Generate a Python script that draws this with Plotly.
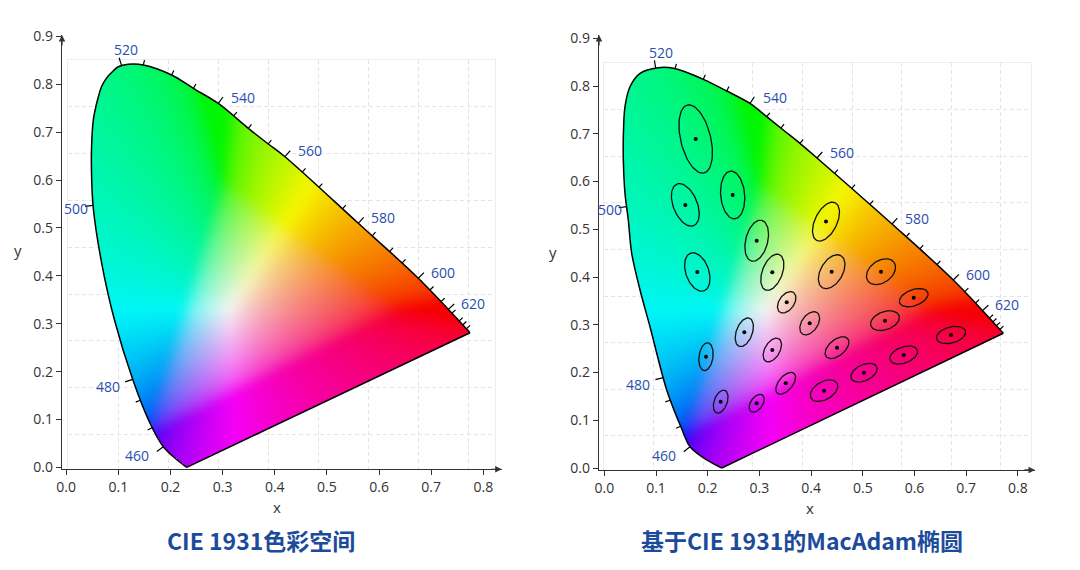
import base64
import struct
import zlib

import numpy as np
import plotly.graph_objects as go

# ------------------------------------------------------------------ data
x_tick_vals = [0.0, 0.1, 0.2, 0.3, 0.4, 0.5, 0.6, 0.7, 0.8]
y_tick_vals = [0.0, 0.1, 0.2, 0.3, 0.4, 0.5, 0.6, 0.7, 0.8, 0.9]

panel_titles = ["CIE 1931色彩空间", "基于CIE 1931的MacAdam椭圆"]

# spectral locus (blue end -> 520 nm tip -> red end), left panel
locus_left_x = [0.2311, 0.2106, 0.1862, 0.1607, 0.1275, 0.0926, 0.0681, 0.0520, 0.0489,
                0.0485, 0.0520, 0.0600, 0.0677, 0.0756, 0.0855, 0.0999, 0.1191, 0.1479,
                0.2023, 0.2438, 0.2917, 0.3493, 0.3876, 0.4196, 0.5602, 0.6753, 0.7745]
locus_left_y = [0.0000, 0.0175, 0.0432, 0.0921, 0.1839, 0.3077, 0.4261, 0.5409, 0.6000,
                0.6626, 0.7253, 0.7670, 0.7948, 0.8102, 0.8228, 0.8365, 0.8415, 0.8401,
                0.8192, 0.7914, 0.7598, 0.7079, 0.6752, 0.6486, 0.5096, 0.3948, 0.2812]

# spectral locus, right panel
locus_right_x = [0.2271, 0.1981, 0.1658, 0.1493, 0.1207, 0.0884, 0.0691, 0.0530, 0.0464,
                 0.0400, 0.0368, 0.0368, 0.0400, 0.0497, 0.0691, 0.1044, 0.1335, 0.1915,
                 0.2368, 0.2818, 0.3141, 0.3462, 0.3785, 0.4114, 0.5565, 0.6750, 0.7718]
locus_right_y = [0.0000, 0.0168, 0.0446, 0.0831, 0.1634, 0.2959, 0.3728, 0.4496, 0.5194,
                 0.5753, 0.6450, 0.6938, 0.7567, 0.7985, 0.8266, 0.8383, 0.8371, 0.8140,
                 0.7895, 0.7634, 0.7357, 0.7079, 0.6800, 0.6492, 0.5110, 0.3937, 0.2821]

# wavelength marks (nm) on the locus
tick_wl = [460, 465, 475, 480, 500, 520, 525, 530, 535, 540, 545, 550, 555, 560, 565,
           570, 575, 580, 585, 590, 595, 600, 605, 610, 620, 625, 630, 640, 650]
tick_left_x = [0.1862, 0.1607, 0.1364, 0.1275, 0.0520, 0.1051, 0.1479, 0.2023, 0.2438,
               0.2917, 0.3205, 0.3493, 0.3876, 0.4196, 0.4497, 0.4868, 0.5219, 0.5602,
               0.5859, 0.6134, 0.6435, 0.6753, 0.6977, 0.7202, 0.7361, 0.7457, 0.7539,
               0.7616, 0.7681]
tick_left_y = [0.0432, 0.0816, 0.1407, 0.1839, 0.5478, 0.8407, 0.8415, 0.8192, 0.7914,
               0.7598, 0.7342, 0.7079, 0.6752, 0.6486, 0.6140, 0.5756, 0.5409, 0.5096,
               0.4768, 0.4470, 0.4177, 0.3948, 0.3635, 0.3426, 0.3322, 0.3217, 0.3092,
               0.3042, 0.2937]
tick_right_x = [0.1667, 0.1410, 0.1251, 0.1164, 0.0429, 0.0981, 0.1387, 0.1915, 0.2368,
                0.2818, 0.3141, 0.3431, 0.3785, 0.4114, 0.4443, 0.4811, 0.5139, 0.5565,
                0.5818, 0.6108, 0.6398, 0.6750, 0.6944, 0.7170, 0.7331, 0.7460, 0.7557,
                0.7640, 0.7706]
tick_right_y = [0.0440, 0.0825, 0.1424, 0.1858, 0.5472, 0.8390, 0.8371, 0.8161, 0.7895,
                0.7634, 0.7357, 0.7114, 0.6812, 0.6492, 0.6178, 0.5822, 0.5508, 0.5110,
                0.4859, 0.4565, 0.4251, 0.3937, 0.3686, 0.3449, 0.3309, 0.3183, 0.3079,
                0.2995, 0.2911]
labelled_wl = [460, 480, 500, 520, 540, 560, 580, 600, 620]

# MacAdam ellipses as drawn (centre, semi-axes in x units, angle in degrees)
ell_x = [0.1768, 0.2483, 0.1567, 0.2948, 0.1799, 0.3250, 0.4288, 0.4398, 0.5352, 0.5985,
         0.5429, 0.6706, 0.3973, 0.4501, 0.5791, 0.5023, 0.4250, 0.3528, 0.2708, 0.3250,
         0.1967, 0.3509, 0.2251, 0.2948]
ell_y = [0.6890, 0.5717, 0.5510, 0.4760, 0.4105, 0.4100, 0.5160, 0.4111, 0.4111, 0.3567,
         0.3085, 0.2785, 0.3030, 0.2520, 0.2366, 0.1996, 0.1620, 0.3470, 0.2842, 0.2471,
         0.2331, 0.1774, 0.1389, 0.1355]
ell_a = [0.0677, 0.0464, 0.0433, 0.0406, 0.0387, 0.0368, 0.0406, 0.0358, 0.0310, 0.0290,
         0.0290, 0.0290, 0.0251, 0.0271, 0.0280, 0.0271, 0.0290, 0.0232, 0.0290, 0.0251,
         0.0271, 0.0251, 0.0232, 0.0193]
ell_b = [0.0290, 0.0232, 0.0232, 0.0213, 0.0222, 0.0193, 0.0213, 0.0213, 0.0213, 0.0155,
         0.0174, 0.0155, 0.0155, 0.0155, 0.0155, 0.0155, 0.0174, 0.0145, 0.0155, 0.0145,
         0.0135, 0.0135, 0.0126, 0.0116]
ell_angle = [103.7, 95, 112, 76, 109.5, 69, 64, 60, 35, 20, 20, 15, 55, 40, 20, 25, 30, 55,
             70, 60, 82, 50, 70, 55]

# ------------------------------------------------------------------ layout geometry
# the page body adds an 8 px margin around the figure, so the figure is drawn
# 8 px in from the window edge and everything is positioned in window pixels
OFF = 8.0
FW, FH = 1064, 554


def fx(px):
    return (px - OFF) / FW


def fy(py):
    return 1 - (py - OFF) / FH


# pixel calibration of each panel (window pixels): data origin, px per unit, axis extent
PANELS = [
    dict(ox=66.2, sx=521.4, oy=467.4, sy=479.0, left=62.0, right=501.7, top=35.0, bottom=469.3,
         grid=(68.0, 495.0, 60.0, 469.0, 50.0, 46.8)),
    dict(ox=604.3, sx=517.0, oy=468.0, sy=477.5, left=599.0, right=1035.0, top=35.0, bottom=470.0,
         grid=(604.0, 1031.0, 62.7, 470.0, 49.6, 46.66)),
]

BLUE_LABEL = "#2a4fae"
AXIS_COL = "#333333"
GRID_COL = "#e4e4e4"


def smooth_path(xs, ys, n=14):
    P = np.column_stack([xs, ys]).astype(float)
    P = np.vstack([2 * P[0] - P[1], P, 2 * P[-1] - P[-2]])
    out = []
    for i in range(1, len(P) - 2):
        p0, p1, p2, p3 = P[i - 1], P[i], P[i + 1], P[i + 2]
        for t in np.linspace(0, 1, n, endpoint=False):
            out.append(0.5 * (2 * p1 + (-p0 + p2) * t + (2 * p0 - 5 * p1 + 4 * p2 - p3) * t * t
                              + (-p0 + 3 * p1 - 3 * p2 + p3) * t ** 3))
    out.append(P[-2])
    return np.array(out)


def inside_polygon(X, Y, px, py):
    inside = np.zeros(X.shape, dtype=bool)
    n = len(px)
    j = n - 1
    for i in range(n):
        xi, yi, xj, yj = px[i], py[i], px[j], py[j]
        if yi != yj:
            cond = ((yi > Y) != (yj > Y)) & (X < (xj - xi) * (Y - yi) / (yj - yi) + xi)
            inside ^= cond
        j = i
    return inside


def blur(img, sigma):
    r = int(3 * sigma)
    k = np.exp(-0.5 * (np.arange(-r, r + 1) / sigma) ** 2)
    k /= k.sum()
    for axis in (0, 1):
        pad = [(0, 0)] * img.ndim
        pad[axis] = (r, r)
        p = np.pad(img, pad, mode="edge")
        n = img.shape[axis]
        acc = np.zeros_like(img)
        for i in range(2 * r + 1):
            sl = [slice(None)] * img.ndim
            sl[axis] = slice(i, i + n)
            acc += k[i] * p[tuple(sl)]
        img = acc
    return img


def chromaticity_png(path, step):
    xs = np.arange(0, 0.8, step) + step / 2
    ys = np.arange(0, 0.86, step) + step / 2
    X, Y = np.meshgrid(xs, ys)
    mask = inside_polygon(X, Y, path[:, 0], path[:, 1])
    Xc = X / Y
    Zc = (1 - X - Y) / Y
    r = 3.2406 * Xc - 1.5372 - 0.4986 * Zc
    g = -0.9689 * Xc + 1.8758 + 0.0415 * Zc
    b = 0.0557 * Xc - 0.2040 + 1.0570 * Zc
    rgb = np.stack([r, g, b], axis=-1)
    # partly desaturate out-of-gamut colours, clip the rest, full brightness
    rgb = rgb - 0.55 * np.minimum(rgb.min(axis=-1, keepdims=True), 0)
    rgb = np.clip(rgb, 0, None)
    rgb = rgb / np.maximum(rgb.max(axis=-1, keepdims=True), 1e-9)
    srgb = np.where(rgb <= 0.0031308, 12.92 * rgb, 1.055 * np.power(rgb, 1 / 2.4) - 0.055)
    srgb = blur(srgb, 7.0) * 0.965
    rgba = np.zeros(X.shape + (4,), dtype=np.uint8)
    rgba[..., :3] = np.clip(srgb * 255 + 0.5, 0, 255).astype(np.uint8)
    rgba[..., 3] = np.where(mask, 255, 0).astype(np.uint8)
    h, w, _ = rgba.shape
    raw = b"".join(b"\x00" + rgba[i].tobytes() for i in range(h))

    def chunk(tag, data):
        return (struct.pack(">I", len(data)) + tag + data
                + struct.pack(">I", zlib.crc32(tag + data) & 0xFFFFFFFF))

    png = (b"\x89PNG\r\n\x1a\n"
           + chunk(b"IHDR", struct.pack(">IIBBBBB", w, h, 8, 6, 0, 0, 0))
           + chunk(b"IDAT", zlib.compress(raw, 9)) + chunk(b"IEND", b""))
    return "data:image/png;base64," + base64.b64encode(png).decode()


def label_shift(wl):
    if wl == 460:
        return dict(xanchor="right", xshift=-12, yshift=-9)
    if wl == 480:
        return dict(xanchor="right", xshift=-11, yshift=-7)
    if wl == 500:
        return dict(xanchor="right", xshift=-3, yshift=-3)
    if wl == 520:
        return dict(xanchor="center", xshift=5, yshift=16)
    return dict(xanchor="left", xshift=11, yshift=6)


fig = go.Figure()
annotations = []
layout_axes = {}
STEP = 0.0015

locus_sets = [(locus_left_x, locus_left_y, tick_left_x, tick_left_y),
              (locus_right_x, locus_right_y, tick_right_x, tick_right_y)]

# grid panels (drawn underneath)
for k, P in enumerate(PANELS):
    gx0, gx1, gy0, gy1, gdx, gdy = P["grid"]
    xa = "xaxis" if k == 0 else "xaxis2"
    ya = "yaxis" if k == 0 else "yaxis2"
    grid_common = dict(showgrid=True, gridcolor=GRID_COL, griddash="4px,3px", gridwidth=1,
                       showticklabels=False, ticks="", zeroline=False, showline=True,
                       mirror=True, linecolor="#ededed", linewidth=1, fixedrange=True,
                       automargin=False)
    layout_axes[xa] = dict(grid_common, domain=[fx(gx0), fx(gx1)], range=[0, gx1 - gx0],
                           tick0=0, dtick=gdx, anchor="y" if k == 0 else "y2")
    layout_axes[ya] = dict(grid_common, domain=[fy(gy1), fy(gy0)],
                           range=[gy1 - gy0, 0], tick0=0, dtick=gdy,
                           anchor="x" if k == 0 else "x2")
    fig.add_trace(go.Scatter(x=[None], y=[None], xaxis="x" if k == 0 else "x2",
                             yaxis="y" if k == 0 else "y2", showlegend=False,
                             hoverinfo="skip"))

for k, P in enumerate(PANELS):
    xn = "x3" if k == 0 else "x4"
    yn = "y3" if k == 0 else "y4"
    lx, ly, tx, ty = locus_sets[k]
    sx, sy = P["sx"], P["sy"]
    xr = [(P["left"] - P["ox"]) / sx, (P["right"] - P["ox"]) / sx]
    yr = [(P["oy"] - P["bottom"]) / sy, (P["oy"] - P["top"]) / sy]
    common = dict(showline=True, linecolor=AXIS_COL, linewidth=1.3, ticks="outside", ticklen=5,
                  tickwidth=1.2, tickcolor=AXIS_COL, showgrid=False, zeroline=False,
                  tickfont=dict(family="Open Sans", size=14, color="#333333"),
                  tickformat=".1f", fixedrange=True, automargin=False)
    layout_axes["xaxis" + xn[1:]] = dict(common, domain=[fx(P["left"]), fx(P["right"])],
                                         range=xr, tickvals=x_tick_vals, anchor=yn)
    layout_axes["yaxis" + yn[1:]] = dict(common, domain=[fy(P["bottom"]), fy(P["top"])],
                                         range=yr, tickvals=y_tick_vals, anchor=xn,
                                         scaleanchor=False)

    path = smooth_path(lx, ly)
    closed = np.vstack([path, path[:1]])
    fig.add_trace(go.Image(source=chromaticity_png(closed, STEP), x0=STEP / 2, y0=STEP / 2,
                           dx=STEP, dy=STEP, xaxis=xn, yaxis=yn, hoverinfo="skip"))

    # locus outline + purple line
    fig.add_trace(go.Scatter(x=lx, y=ly, mode="lines", xaxis=xn, yaxis=yn,
                             line=dict(color="black", width=1.5, shape="spline", smoothing=0.9),
                             showlegend=False, hoverinfo="skip"))
    fig.add_trace(go.Scatter(x=[lx[-1], lx[0]], y=[ly[-1], ly[0]], mode="lines", xaxis=xn,
                             yaxis=yn, line=dict(color="black", width=1.5), showlegend=False,
                             hoverinfo="skip"))

    # wavelength ticks, perpendicular to the locus, pointing outwards
    seg_x, seg_y = [], []
    pp = np.column_stack([path[:, 0] * sx, path[:, 1] * sy])
    for wl, bx, by in zip(tick_wl, tx, ty):
        d = np.hypot(pp[:, 0] - bx * sx, pp[:, 1] - by * sy)
        i = int(np.argmin(d))
        i0, i1 = max(i - 1, 0), min(i + 1, len(pp) - 1)
        tvec = pp[i1] - pp[i0]
        tvec = tvec / np.hypot(*tvec)
        nvec = np.array([-tvec[1], tvec[0]])
        length = 8 if wl in labelled_wl else 5
        base = pp[i]
        tip = base + nvec * length
        seg_x += [base[0] / sx, tip[0] / sx, None]
        seg_y += [base[1] / sy, tip[1] / sy, None]
        if wl in labelled_wl:
            annotations.append(dict(x=base[0] / sx, y=base[1] / sy, xref=xn, yref=yn,
                                    text=str(wl), showarrow=False, yanchor="middle",
                                    font=dict(family="Open Sans", size=14, color=BLUE_LABEL),
                                    **label_shift(wl)))
    fig.add_trace(go.Scatter(x=seg_x, y=seg_y, mode="lines", xaxis=xn, yaxis=yn,
                             line=dict(color="black", width=1.2), showlegend=False,
                             hoverinfo="skip"))

    # axis arrows
    annotations.append(dict(xref=xn + " domain", yref=yn + " domain", x=0, y=1, ax=0, ay=12,
                            axref="pixel", ayref="pixel", text="", showarrow=True, arrowhead=2,
                            arrowsize=1, arrowwidth=1.3, arrowcolor=AXIS_COL))
    annotations.append(dict(xref=xn + " domain", yref=yn + " domain", x=1, y=0, ax=-12, ay=0,
                            axref="pixel", ayref="pixel", text="", showarrow=True, arrowhead=2,
                            arrowsize=1, arrowwidth=1.3, arrowcolor=AXIS_COL))

# MacAdam ellipses on the right panel
sxR, syR = PANELS[1]["sx"], PANELS[1]["sy"]
t = np.linspace(0, 2 * np.pi, 90)
ex, ey = [], []
for cx, cy, a, b, ang in zip(ell_x, ell_y, ell_a, ell_b, ell_angle):
    th = np.radians(ang)
    ux = a * np.cos(t) * np.cos(th) - b * np.sin(t) * np.sin(th)
    uy = a * np.cos(t) * np.sin(th) + b * np.sin(t) * np.cos(th)
    ex += list(cx + ux) + [None]
    ey += list(cy + uy * sxR / syR) + [None]
fig.add_trace(go.Scatter(x=ex, y=ey, mode="lines", xaxis="x4", yaxis="y4",
                         line=dict(color="#111111", width=1.3), showlegend=False,
                         hoverinfo="skip"))
fig.add_trace(go.Scatter(x=ell_x, y=ell_y, mode="markers", xaxis="x4", yaxis="y4",
                         marker=dict(color="black", size=4), showlegend=False,
                         hoverinfo="skip"))

# axis titles and panel titles
for (xx, yy, txt) in [(277.3, 506.7, "x"), (810.0, 508.3, "x"), (17.5, 250.0, "y"),
                      (553.0, 252.0, "y")]:
    annotations.append(dict(x=fx(xx), y=fy(yy), xref="paper", yref="paper", text=txt,
                            showarrow=False, xanchor="center", yanchor="middle",
                            font=dict(family="Open Sans", size=15, color="#333333")))
for xx, txt in zip([260.8, 801.7], panel_titles):
    annotations.append(dict(x=fx(xx), y=fy(540.0), xref="paper", yref="paper",
                            text="<b>" + txt + "</b>", showarrow=False, xanchor="center",
                            yanchor="middle",
                            font=dict(family="Noto Sans CJK SC", size=23, color="#1d4b9b")))

fig.update_layout(template="none", width=FW, height=FH,
                  margin=dict(l=0, r=0, t=0, b=0, pad=0, autoexpand=False),
                  paper_bgcolor="white", plot_bgcolor="rgba(0,0,0,0)", showlegend=False,
                  font=dict(family="Open Sans", color="#333333"),
                  annotations=annotations, **layout_axes)

fig.write_html("out.html")
